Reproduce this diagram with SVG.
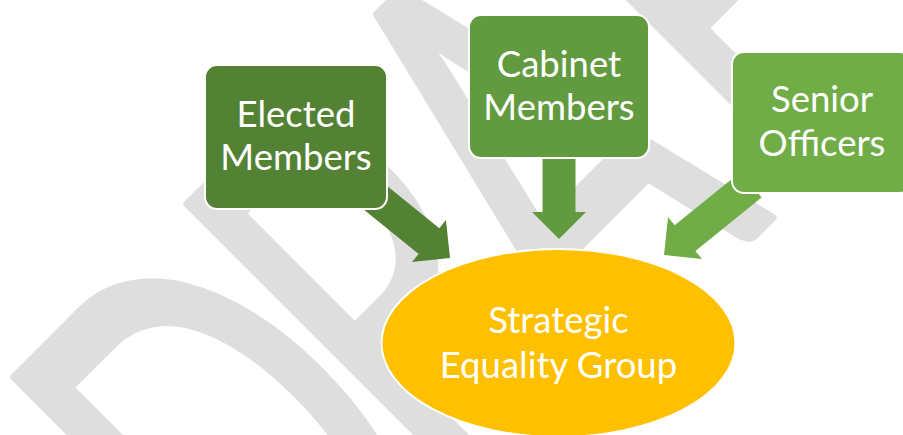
<svg xmlns="http://www.w3.org/2000/svg" width="903" height="435" viewBox="0 0 903 435">
<style>
.wm{fill:#DEDEDE;stroke:#DEDEDE;stroke-width:5;stroke-linejoin:round;font-family:Lato,"Open Sans",sans-serif;}
.lbl{fill:#FFFFFF;font-family:Lato,"Open Sans",sans-serif;font-size:36.5px;text-anchor:middle;}
.box{stroke:#FFFFFF;stroke-width:2;}
</style>
<rect x="0" y="0" width="903" height="435" fill="#FFFFFF"/>
<g id="watermark">
<text class="wm" transform="rotate(-45) translate(0,700) scale(1,1.64)" x="-291 -46 151 412 585" y="0" font-size="360">DRAFT</text>
</g>
<g id="connectors">
<path id="arrow-elected" fill="#548235" transform="translate(450,258) rotate(38.9)" d="M-100,-16.5 L-27,-16.5 L-27,-27 L0,0 L-27,27 L-27,16.5 L-100,16.5 Z"/>
<path id="arrow-cabinet" fill="#629B3F" transform="translate(559,239) rotate(90)" d="M-85,-16.5 L-27,-16.5 L-27,-27 L0,0 L-27,27 L-27,16.5 L-85,16.5 Z"/>
<path id="arrow-senior" fill="#70AD47" transform="translate(664,255) rotate(141.1)" d="M-112,-16.5 L-27,-16.5 L-27,-27 L0,0 L-27,27 L-27,16.5 L-112,16.5 Z"/>
</g>
<g id="elected-members">
<rect class="box" x="205" y="65" width="182" height="144" rx="12" fill="#548235"/>
<text class="lbl" x="296" y="127">Elected</text>
<text class="lbl" x="296" y="170">Members</text>
</g>
<g id="cabinet-members">
<rect class="box" x="469" y="15" width="180" height="143" rx="12" fill="#629B3F"/>
<text class="lbl" x="559" y="77">Cabinet</text>
<text class="lbl" x="559" y="120">Members</text>
</g>
<g id="senior-officers">
<rect class="box" x="732" y="52" width="180" height="141" rx="12" fill="#70AD47"/>
<text class="lbl" x="822" y="112">Senior</text>
<text class="lbl" x="822" y="156">Officers</text>
</g>
<g id="strategic-equality-group">
<ellipse class="box" cx="558.5" cy="343" rx="177" ry="94" fill="#FFC000"/>
<text class="lbl" x="558.5" y="333">Strategic</text>
<text class="lbl" x="558.5" y="378">Equality Group</text>
</g>
</svg>
